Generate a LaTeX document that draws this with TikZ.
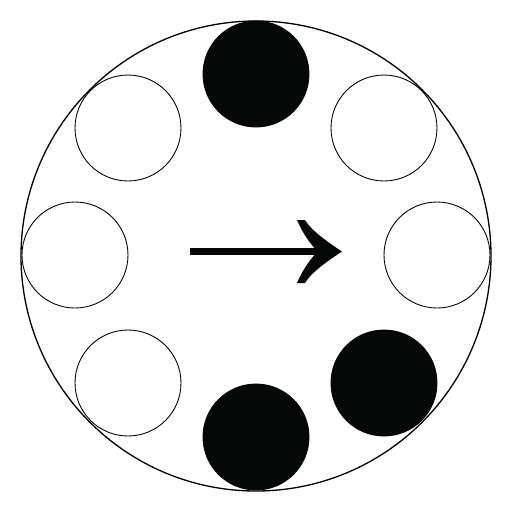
\documentclass[tikz,border=0pt]{standalone}
\definecolor{ink}{HTML}{060808}
\begin{document}
\begin{tikzpicture}[x=0.02cm,y=-0.02cm,
  hole/.style={circle,draw=black,line width=0.5pt,minimum size=106*0.02cm,inner sep=0pt},
  filled/.style={hole,fill=ink,draw=ink}]
\useasboundingbox (0,0) rectangle (512,512);
\node[circle,draw=black,line width=0.75pt,minimum size=470*0.02cm,inner sep=0pt] (outer) at (256,256) {};
\node[filled] (n) at (256,74) {};
\node[hole] (ne) at (384,128) {};
\node[hole] (e) at (437,255) {};
\node[filled] (se) at (384,383) {};
\node[filled] (s) at (256,437) {};
\node[hole] (sw) at (128,383) {};
\node[hole] (w) at (75,255) {};
\node[hole] (nw) at (128,128) {};
\coordinate (a0) at (190,251.5);
\coordinate (a1) at (326,251.5);
\draw[line width=4.5pt,ink] (a0) -- (a1);
\fill[ink] (342,251.5) .. controls (326,241) and (311,230) .. (305,220) -- (297,220)
  .. controls (303,234) and (311,245) .. (318,251.5)
  .. controls (311,258) and (303,269) .. (297,283) -- (305,283)
  .. controls (311,273) and (326,262) .. (342,251.5) -- cycle;
\end{tikzpicture}
\end{document}
